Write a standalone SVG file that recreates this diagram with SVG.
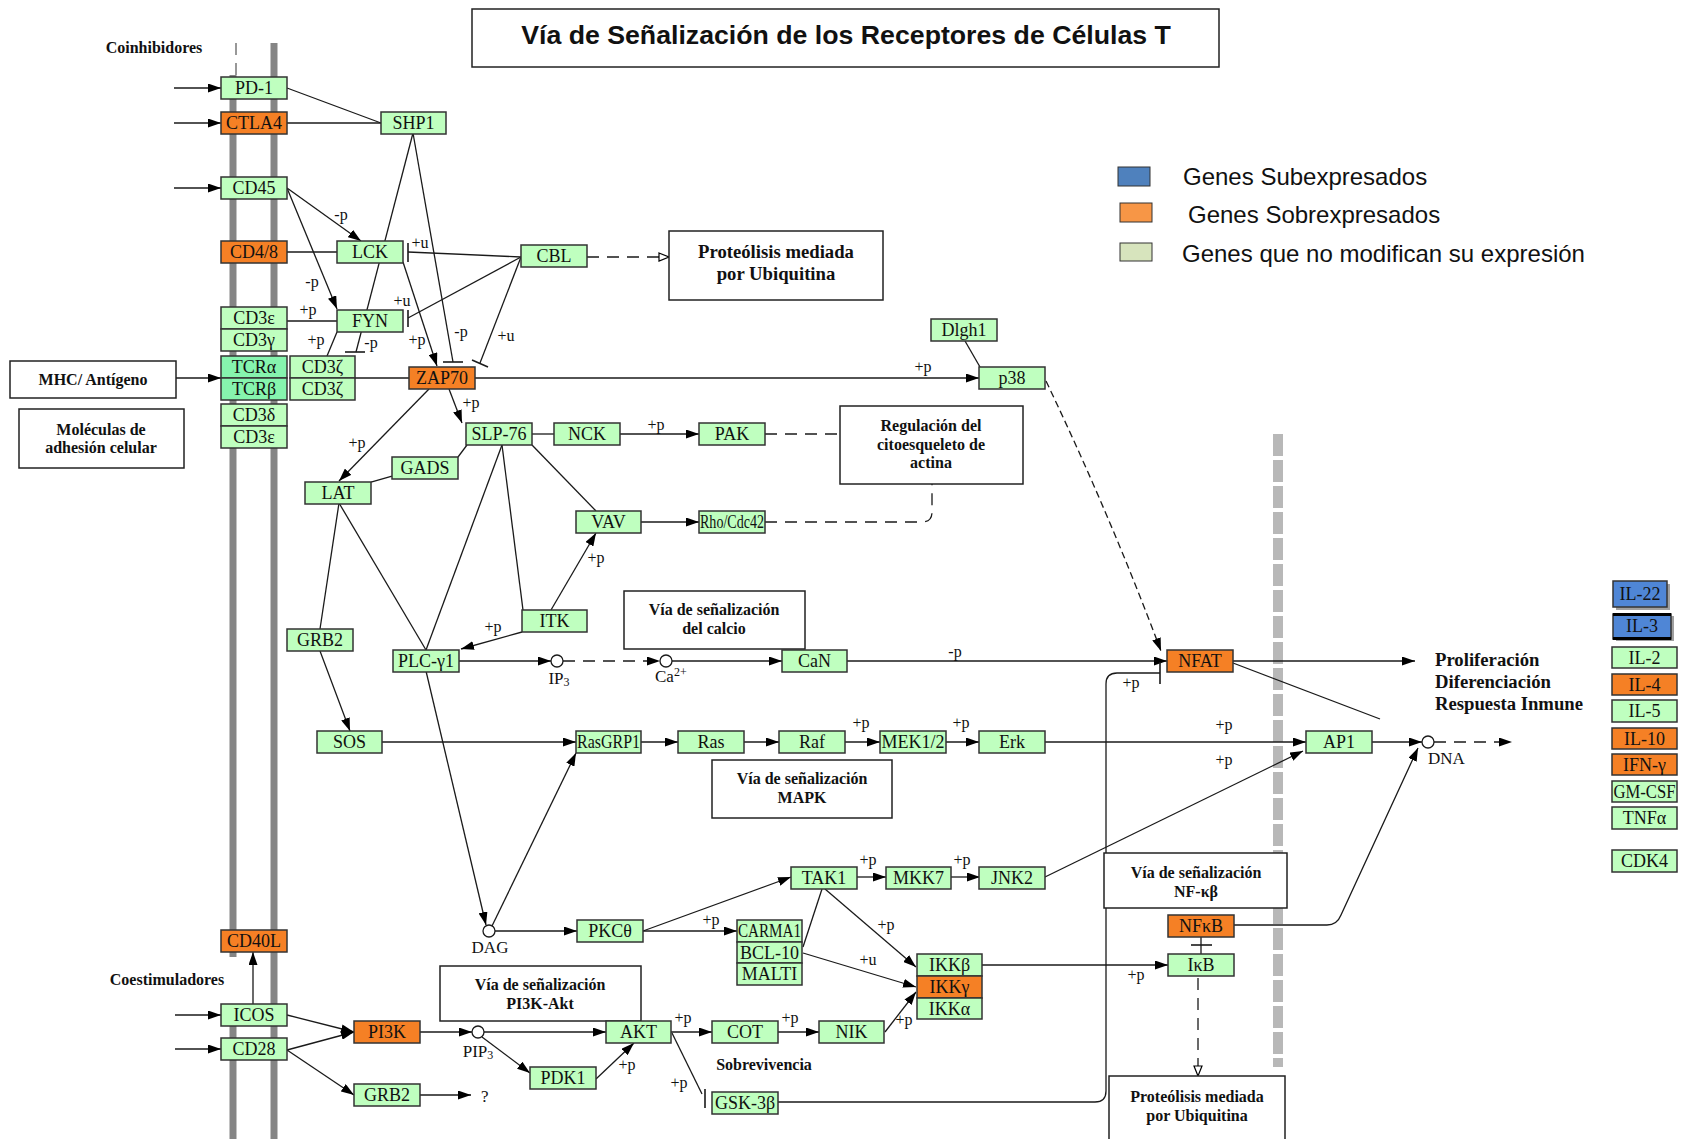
<svg xmlns="http://www.w3.org/2000/svg" width="1688" height="1139" viewBox="0 0 1688 1139">
<style>
.n rect{fill:#bfffbf;stroke:#333;stroke-width:1.5}
.n.o rect{fill:#f58025}
.n.t rect{fill:#86f4ae}
.n.b rect{fill:#4f86d6}
.n text{font-family:"Liberation Serif",serif;font-size:18px;text-anchor:middle;fill:#111}
.bx rect{fill:#fff;stroke:#222;stroke-width:1.5}
.bx text{font-family:"Liberation Serif",serif;font-weight:bold;font-size:16px;text-anchor:middle;fill:#111}
.bx text.big{font-size:18.7px}
.c path{fill:none;stroke:#1a1a1a;stroke-width:1.3}
.c .d{stroke-dasharray:12 8}
.c .f{stroke-dasharray:7 4}
.c .bar{stroke-width:1.6}
.lb{font-family:"Liberation Serif",serif;font-size:16px;text-anchor:middle;fill:#111}
.mt{font-family:"Liberation Serif",serif;font-size:17px;fill:#111}
.hd{font-family:"Liberation Serif",serif;font-weight:bold;font-size:16px;fill:#111}
.hd.big{font-size:18.7px}
.lg{font-family:"Liberation Sans",Arial,sans-serif;font-size:24px;fill:#111}
</style>
<defs>
<marker id="ah" viewBox="0 0 13 9" refX="13" refY="4.5" markerWidth="13" markerHeight="9" markerUnits="userSpaceOnUse" orient="auto"><path d="M0,0 L13,4.5 L0,9 z" fill="#000"/></marker>
<marker id="oh" viewBox="0 0 12 10" refX="11" refY="5" markerWidth="12" markerHeight="10" markerUnits="userSpaceOnUse" orient="auto"><path d="M1,1 L11,5 L1,9 z" fill="#fff" stroke="#000" stroke-width="1.2"/></marker>
</defs>
<rect width="1688" height="1139" fill="#fff"/>

<!-- membranes -->
<g id="membranes">
<line x1="236" y1="43" x2="236" y2="75" stroke="#777" stroke-width="1.5" stroke-dasharray="12 8"/>
<line x1="233" y1="75" x2="233" y2="957" stroke="#858585" stroke-width="7"/>
<line x1="233" y1="1004" x2="233" y2="1139" stroke="#858585" stroke-width="7"/>
<line x1="274" y1="43" x2="274" y2="1139" stroke="#858585" stroke-width="7"/>
<line x1="1278" y1="434" x2="1278" y2="1067" stroke="#b8b8b8" stroke-width="10" stroke-dasharray="22 4"/>
</g>

<!-- title and legend -->
<g id="title">
<rect x="472" y="9" width="747" height="58" fill="#fff" stroke="#222" stroke-width="1.5"/>
<text x="846" y="44" font-family="Liberation Sans, Arial, sans-serif" font-weight="bold" font-size="26.7" text-anchor="middle" fill="#111">Vía de Señalización de los Receptores de Células T</text>
</g>
<g id="legend">
<rect x="1118" y="167" width="32" height="19" fill="#4f81bd" stroke="#333" stroke-width="1"/>
<rect x="1120" y="203" width="32" height="19" fill="#f79646" stroke="#333" stroke-width="1"/>
<rect x="1120" y="243" width="32" height="18" fill="#d7e4bd" stroke="#333" stroke-width="1"/>
<text class="lg" x="1183" y="185">Genes Subexpresados</text>
<text class="lg" x="1188" y="223">Genes Sobrexpresados</text>
<text class="lg" x="1182" y="262">Genes que no modifican su expresión</text>
</g>

<!-- free labels -->
<g id="labels">
<text class="hd" x="154" y="53" text-anchor="middle">Coinhibidores</text>
<text class="hd" x="167" y="985" text-anchor="middle">Coestimuladores</text>
<text class="hd" x="764" y="1070" text-anchor="middle">Sobrevivencia</text>
<text class="hd big" x="1435" y="666">Proliferación</text>
<text class="hd big" x="1435" y="688">Diferenciación</text>
<text class="hd big" x="1435" y="710">Respuesta Inmune</text>
<text class="mt" x="559" y="684" text-anchor="middle">IP<tspan font-size="12" dy="2">3</tspan></text>
<text class="mt" x="655" y="682">Ca<tspan font-size="12" dy="-6">2+</tspan></text>
<text class="mt" x="490" y="953" text-anchor="middle">DAG</text>
<text class="mt" x="478" y="1057" text-anchor="middle">PIP<tspan font-size="12" dy="2">3</tspan></text>
<text class="mt" x="1428" y="764">DNA</text>
<text class="mt" x="481" y="1102">?</text>
</g>

<!-- connectors -->
<g id="connectors" class="c">
<path d="M174,88 L221,88" marker-end="url(#ah)"/>
<path d="M174,123 L221,123" marker-end="url(#ah)"/>
<path d="M174,188 L221,188" marker-end="url(#ah)"/>
<path d="M176,378 L221,378" marker-end="url(#ah)"/>
<path d="M175,1015 L221,1015" marker-end="url(#ah)"/>
<path d="M175,1049 L221,1049" marker-end="url(#ah)"/>
<path d="M253,1004 L253,952" marker-end="url(#ah)"/>
<path d="M287,88 L381,123"/>
<path d="M287,123 L381,123"/>
<path d="M287,188 L361,241" marker-end="url(#ah)"/>
<path d="M287,188 L337,309" marker-end="url(#ah)"/>
<path d="M287,252 L337,252"/>
<path d="M287,321 L337,321"/>
<path d="M413,133 L356,352"/>
<path class="bar" d="M345,352 L365,352"/>
<path d="M413,133 L453,362"/>
<path class="bar" d="M443,362 L463,362"/>
<path d="M403,262 L437,366" marker-end="url(#ah)"/>
<path d="M337,332 L327,356"/>
<path d="M521,257 L408,252"/>
<path class="bar" d="M408,243 L408,262"/>
<path d="M521,257 L408,318"/>
<path class="bar" d="M408,310 L408,327"/>
<path d="M521,257 L480,363"/>
<path class="bar" d="M472,360 L488,367"/>
<path class="d" d="M587,257 L669,257" marker-end="url(#oh)"/>
<path d="M355,378 L409,378"/>
<path d="M475,378 L979,378" marker-end="url(#ah)"/>
<path d="M965,341 L980,367"/>
<path class="f" d="M1046,381 Q1110,515 1161,651" marker-end="url(#ah)"/>
<path d="M449,389 L462,423" marker-end="url(#ah)"/>
<path d="M429,389 L339,481" marker-end="url(#ah)"/>
<path d="M532,434 L554,434"/>
<path d="M620,434 L699,434" marker-end="url(#ah)"/>
<path class="d" d="M765,434 L840,434"/>
<path d="M467,445 L458,457"/>
<path d="M392,476 L371,482"/>
<path d="M532,445 L596,511"/>
<path d="M502,445 L426,650"/>
<path d="M502,445 L523,610"/>
<path d="M339,503 L426,650"/>
<path d="M339,503 L320,629"/>
<path d="M320,651 L350,731" marker-end="url(#ah)"/>
<path d="M641,522 L699,522" marker-end="url(#ah)"/>
<path class="d" d="M765,522 L922,522 Q932,522 932,512 L932,484"/>
<path d="M551,610 L596,533" marker-end="url(#ah)"/>
<path d="M522,632 L461,649" marker-end="url(#ah)"/>
<path d="M459,661 L551,661" marker-end="url(#ah)"/>
<path class="d" d="M563,661 L660,661" marker-end="url(#ah)"/>
<path d="M672,661 L782,661" marker-end="url(#ah)"/>
<path d="M847,661 L1167,661" marker-end="url(#ah)"/>
<path d="M1233,661 L1415,661" marker-end="url(#ah)"/>
<path d="M1233,663 L1380,719"/>
<path d="M778,1102 L1095,1102 Q1106,1102 1106,1091 L1106,684 Q1106,673 1117,673 L1160,673"/>
<path class="bar" d="M1160,662 L1160,684"/>
<path d="M382,742 L576,742" marker-end="url(#ah)"/>
<path d="M641,742 L678,742" marker-end="url(#ah)"/>
<path d="M744,742 L779,742" marker-end="url(#ah)"/>
<path d="M845,742 L880,742" marker-end="url(#ah)"/>
<path d="M946,742 L979,742" marker-end="url(#ah)"/>
<path d="M1045,742 L1306,742" marker-end="url(#ah)"/>
<path d="M1045,877 L1303,751" marker-end="url(#ah)"/>
<path d="M1372,742 L1422,742" marker-end="url(#ah)"/>
<path class="d" d="M1434,742 L1512,742" marker-end="url(#ah)"/>
<path d="M1234,925 L1327,925 Q1337,925 1341,915 L1418,748" marker-end="url(#ah)"/>
<path d="M426,671 L486,925" marker-end="url(#ah)"/>
<path d="M492,926 L576,753" marker-end="url(#ah)"/>
<path d="M495,931 L577,931" marker-end="url(#ah)"/>
<path d="M643,931 L791,877" marker-end="url(#ah)"/>
<path d="M643,931 L737,931" marker-end="url(#ah)"/>
<path d="M857,877 L886,877" marker-end="url(#ah)"/>
<path d="M951,877 L980,877" marker-end="url(#ah)"/>
<path d="M822,889 L803,947"/>
<path d="M825,889 L916,967" marker-end="url(#ah)"/>
<path d="M803,953 L916,987" marker-end="url(#ah)"/>
<path d="M885,1032 L916,992" marker-end="url(#ah)"/>
<path d="M982,965 L1168,965" marker-end="url(#ah)"/>
<path d="M1201,937 L1201,954"/>
<path class="bar" d="M1191,945 L1212,945"/>
<path class="d" d="M1198,978 L1198,1076" marker-end="url(#oh)"/>
<path d="M287,1015 L354,1032" marker-end="url(#ah)"/>
<path d="M287,1050 L354,1032" marker-end="url(#ah)"/>
<path d="M287,1050 L354,1095" marker-end="url(#ah)"/>
<path d="M420,1095 L471,1095" marker-end="url(#ah)"/>
<path d="M420,1032 L472,1032" marker-end="url(#ah)"/>
<path d="M484,1032 L606,1032" marker-end="url(#ah)"/>
<path d="M482,1037 L530,1073" marker-end="url(#ah)"/>
<path d="M596,1079 L634,1043" marker-end="url(#ah)"/>
<path d="M671,1032 L712,1032" marker-end="url(#ah)"/>
<path d="M778,1032 L819,1032" marker-end="url(#ah)"/>
<path d="M672,1033 L702,1094"/>
<path class="bar" d="M705,1089 L705,1108"/>
<circle cx="557" cy="661" r="6" fill="#fff" stroke="#1a1a1a" stroke-width="1.3"/>
<circle cx="666" cy="661" r="6" fill="#fff" stroke="#1a1a1a" stroke-width="1.3"/>
<circle cx="489" cy="931" r="6" fill="#fff" stroke="#1a1a1a" stroke-width="1.3"/>
<circle cx="478" cy="1032" r="6" fill="#fff" stroke="#1a1a1a" stroke-width="1.3"/>
<circle cx="1428" cy="742" r="6" fill="#fff" stroke="#1a1a1a" stroke-width="1.3"/>
</g>

<!-- edge labels -->
<g id="edge-labels" class="lb">
<text class="lb" x="341" y="220">-p</text>
<text class="lb" x="312" y="287">-p</text>
<text class="lb" x="308" y="315">+p</text>
<text class="lb" x="316" y="345">+p</text>
<text class="lb" x="371" y="348">-p</text>
<text class="lb" x="420" y="248">+u</text>
<text class="lb" x="402" y="306">+u</text>
<text class="lb" x="417" y="345">+p</text>
<text class="lb" x="461" y="337">-p</text>
<text class="lb" x="506" y="341">+u</text>
<text class="lb" x="923" y="372">+p</text>
<text class="lb" x="471" y="408">+p</text>
<text class="lb" x="357" y="448">+p</text>
<text class="lb" x="656" y="430">+p</text>
<text class="lb" x="596" y="563">+p</text>
<text class="lb" x="493" y="632">+p</text>
<text class="lb" x="955" y="657">-p</text>
<text class="lb" x="1131" y="688">+p</text>
<text class="lb" x="861" y="728">+p</text>
<text class="lb" x="961" y="728">+p</text>
<text class="lb" x="1224" y="730">+p</text>
<text class="lb" x="1224" y="765">+p</text>
<text class="lb" x="868" y="865">+p</text>
<text class="lb" x="962" y="865">+p</text>
<text class="lb" x="711" y="925">+p</text>
<text class="lb" x="886" y="930">+p</text>
<text class="lb" x="868" y="965">+u</text>
<text class="lb" x="904" y="1025">+p</text>
<text class="lb" x="1136" y="980">+p</text>
<text class="lb" x="683" y="1023">+p</text>
<text class="lb" x="790" y="1023">+p</text>
<text class="lb" x="627" y="1070">+p</text>
<text class="lb" x="679" y="1088">+p</text>
</g>

<!-- pathway boxes -->
<g id="box-mhc" class="bx"><rect x="10" y="361" width="166" height="37"/><text x="93" y="385">MHC/ Antígeno</text></g>
<g id="box-adhesion" class="bx"><rect x="19" y="409" width="165" height="59"/><text x="101" y="435">Moléculas de</text><text x="101" y="453">adhesión celular</text></g>
<g id="box-proteolysis1" class="bx"><rect x="669" y="231" width="214" height="69"/><text class="big" x="776" y="258">Proteólisis mediada</text><text class="big" x="776" y="280">por Ubiquitina</text></g>
<g id="box-actin" class="bx"><rect x="840" y="406" width="183" height="78"/><text x="931" y="431">Regulación del</text><text x="931" y="450">citoesqueleto de</text><text x="931" y="468">actina</text></g>
<g id="box-calcium" class="bx"><rect x="624" y="591" width="181" height="58"/><text x="714" y="615">Vía de señalización</text><text x="714" y="634">del calcio</text></g>
<g id="box-mapk" class="bx"><rect x="712" y="760" width="180" height="58"/><text x="802" y="784">Vía de señalización</text><text x="802" y="803">MAPK</text></g>
<g id="box-pi3k" class="bx"><rect x="440" y="966" width="201" height="55"/><text x="540" y="990">Vía de señalización</text><text x="540" y="1009">PI3K-Akt</text></g>
<g id="box-nfkb" class="bx"><rect x="1104" y="853" width="183" height="55"/><text x="1196" y="878">Vía de señalización</text><text x="1196" y="897">NF-κβ</text></g>
<g id="box-proteolysis2" class="bx"><rect x="1109" y="1076" width="176" height="80"/><text x="1197" y="1102">Proteólisis mediada</text><text x="1197" y="1121">por Ubiquitina</text></g>

<!-- nodes -->
<g id="PD-1" class="n"><rect x="221" y="77" width="66" height="22"/><text x="254" y="94">PD-1</text></g>
<g id="CTLA4" class="n o"><rect x="221" y="112" width="66" height="22"/><text x="254" y="129">CTLA4</text></g>
<g id="CD45" class="n"><rect x="221" y="177" width="66" height="22"/><text x="254" y="194">CD45</text></g>
<g id="CD4-8" class="n o"><rect x="221" y="241" width="66" height="22"/><text x="254" y="258">CD4/8</text></g>
<g id="CD3e-1" class="n"><rect x="221" y="307" width="66" height="22"/><text x="254" y="324">CD3ε</text></g>
<g id="CD3g" class="n"><rect x="221" y="329" width="66" height="22"/><text x="254" y="346">CD3γ</text></g>
<g id="TCRa" class="n t"><rect x="221" y="356" width="66" height="22"/><text x="254" y="373">TCRα</text></g>
<g id="TCRb" class="n t"><rect x="221" y="378" width="66" height="22"/><text x="254" y="395">TCRβ</text></g>
<g id="CD3d" class="n"><rect x="221" y="404" width="66" height="22"/><text x="254" y="421">CD3δ</text></g>
<g id="CD3e-2" class="n"><rect x="221" y="426" width="66" height="22"/><text x="254" y="443">CD3ε</text></g>
<g id="CD3z-1" class="n"><rect x="290" y="356" width="65" height="22"/><text x="322.5" y="373">CD3ζ</text></g>
<g id="CD3z-2" class="n"><rect x="290" y="378" width="65" height="22"/><text x="322.5" y="395">CD3ζ</text></g>
<g id="CD40L" class="n o"><rect x="221" y="930" width="66" height="22"/><text x="254" y="947">CD40L</text></g>
<g id="ICOS" class="n"><rect x="221" y="1004" width="66" height="22"/><text x="254" y="1021">ICOS</text></g>
<g id="CD28" class="n"><rect x="221" y="1038" width="66" height="22"/><text x="254" y="1055">CD28</text></g>
<g id="SHP1" class="n"><rect x="381" y="112" width="65" height="22"/><text x="413.5" y="129">SHP1</text></g>
<g id="LCK" class="n"><rect x="337" y="241" width="66" height="22"/><text x="370" y="258">LCK</text></g>
<g id="FYN" class="n"><rect x="337" y="310" width="66" height="22"/><text x="370" y="327">FYN</text></g>
<g id="ZAP70" class="n o"><rect x="409" y="367" width="66" height="22"/><text x="442" y="384">ZAP70</text></g>
<g id="CBL" class="n"><rect x="521" y="245" width="66" height="22"/><text x="554" y="262">CBL</text></g>
<g id="Dlgh1" class="n"><rect x="931" y="319" width="66" height="22"/><text x="964" y="336">Dlgh1</text></g>
<g id="p38" class="n"><rect x="979" y="367" width="66" height="22"/><text x="1012" y="384">p38</text></g>
<g id="SLP-76" class="n"><rect x="466" y="423" width="66" height="22"/><text x="499" y="440">SLP-76</text></g>
<g id="NCK" class="n"><rect x="554" y="423" width="66" height="22"/><text x="587" y="440">NCK</text></g>
<g id="PAK" class="n"><rect x="699" y="423" width="66" height="22"/><text x="732" y="440">PAK</text></g>
<g id="GADS" class="n"><rect x="392" y="457" width="66" height="22"/><text x="425" y="474">GADS</text></g>
<g id="LAT" class="n"><rect x="305" y="482" width="66" height="22"/><text x="338" y="499">LAT</text></g>
<g id="VAV" class="n"><rect x="576" y="511" width="65" height="22"/><text x="608.5" y="528">VAV</text></g>
<g id="Rho-Cdc42" class="n"><rect x="699" y="511" width="66" height="22"/><text x="732" y="528" textLength="64" lengthAdjust="spacingAndGlyphs">Rho/Cdc42</text></g>
<g id="ITK" class="n"><rect x="522" y="610" width="65" height="22"/><text x="554.5" y="627">ITK</text></g>
<g id="GRB2-1" class="n"><rect x="287" y="629" width="66" height="22"/><text x="320" y="646">GRB2</text></g>
<g id="PLCg1" class="n"><rect x="393" y="650" width="66" height="22"/><text x="426" y="667">PLC-γ1</text></g>
<g id="CaN" class="n"><rect x="782" y="650" width="65" height="22"/><text x="814.5" y="667">CaN</text></g>
<g id="NFAT" class="n o"><rect x="1167" y="650" width="66" height="22"/><text x="1200" y="667">NFAT</text></g>
<g id="SOS" class="n"><rect x="317" y="731" width="65" height="22"/><text x="349.5" y="748">SOS</text></g>
<g id="RasGRP1" class="n"><rect x="576" y="731" width="65" height="22"/><text x="608.5" y="748" textLength="63" lengthAdjust="spacingAndGlyphs">RasGRP1</text></g>
<g id="Ras" class="n"><rect x="678" y="731" width="66" height="22"/><text x="711" y="748">Ras</text></g>
<g id="Raf" class="n"><rect x="779" y="731" width="66" height="22"/><text x="812" y="748">Raf</text></g>
<g id="MEK1-2" class="n"><rect x="880" y="731" width="66" height="22"/><text x="913" y="748">MEK1/2</text></g>
<g id="Erk" class="n"><rect x="979" y="731" width="66" height="22"/><text x="1012" y="748">Erk</text></g>
<g id="AP1" class="n"><rect x="1306" y="731" width="66" height="22"/><text x="1339" y="748">AP1</text></g>
<g id="TAK1" class="n"><rect x="791" y="867" width="66" height="22"/><text x="824" y="884">TAK1</text></g>
<g id="MKK7" class="n"><rect x="886" y="867" width="65" height="22"/><text x="918.5" y="884">MKK7</text></g>
<g id="JNK2" class="n"><rect x="979" y="867" width="66" height="22"/><text x="1012" y="884">JNK2</text></g>
<g id="PKCtheta" class="n"><rect x="577" y="920" width="66" height="22"/><text x="610" y="937">PKCθ</text></g>
<g id="CARMA1" class="n"><rect x="737" y="920" width="65" height="22"/><text x="769.5" y="937" textLength="63" lengthAdjust="spacingAndGlyphs">CARMA1</text></g>
<g id="BCL-10" class="n"><rect x="737" y="942" width="65" height="21"/><text x="769.5" y="958.5">BCL-10</text></g>
<g id="MALT1" class="n"><rect x="737" y="963" width="65" height="22"/><text x="769.5" y="980">MALTI</text></g>
<g id="IKKb" class="n"><rect x="917" y="954" width="65" height="22"/><text x="949.5" y="971">IKKβ</text></g>
<g id="IKKg" class="n o"><rect x="917" y="976" width="65" height="22"/><text x="949.5" y="993">IKKγ</text></g>
<g id="IKKa" class="n"><rect x="917" y="998" width="65" height="21"/><text x="949.5" y="1014.5">IKKα</text></g>
<g id="NFkB" class="n o"><rect x="1168" y="915" width="66" height="22"/><text x="1201" y="932">NFκB</text></g>
<g id="IkB" class="n"><rect x="1168" y="954" width="66" height="22"/><text x="1201" y="971">IκB</text></g>
<g id="PI3K" class="n o"><rect x="354" y="1021" width="66" height="22"/><text x="387" y="1038">PI3K</text></g>
<g id="AKT" class="n"><rect x="606" y="1021" width="65" height="22"/><text x="638.5" y="1038">AKT</text></g>
<g id="COT" class="n"><rect x="712" y="1021" width="66" height="22"/><text x="745" y="1038">COT</text></g>
<g id="NIK" class="n"><rect x="819" y="1021" width="65" height="22"/><text x="851.5" y="1038">NIK</text></g>
<g id="PDK1" class="n"><rect x="530" y="1067" width="66" height="22"/><text x="563" y="1084">PDK1</text></g>
<g id="GRB2-2" class="n"><rect x="354" y="1084" width="66" height="22"/><text x="387" y="1101">GRB2</text></g>
<g id="GSK-3b" class="n"><rect x="712" y="1092" width="66" height="22"/><text x="745" y="1109">GSK-3β</text></g>

<!-- cytokine column -->
<g id="IL-22" class="n b"><rect x="1616" y="584" width="54" height="26" style="fill:#a0a0a0;stroke:none"/><rect x="1613" y="581" width="54" height="26"/><text x="1640" y="600">IL-22</text></g>
<g id="IL-3" class="n b"><rect x="1616" y="616" width="58" height="25" style="fill:#a0a0a0;stroke:none"/><rect x="1613" y="614" width="58" height="25"/><rect x="1613" y="613" width="58" height="3" style="fill:#000;stroke:none"/><rect x="1613" y="637" width="58" height="3" style="fill:#000;stroke:none"/><text x="1642" y="632">IL-3</text></g>
<g id="IL-2" class="n"><rect x="1612" y="647" width="65" height="21"/><text x="1644.5" y="663.5">IL-2</text></g>
<g id="IL-4" class="n o"><rect x="1612" y="674" width="65" height="21"/><text x="1644.5" y="690.5">IL-4</text></g>
<g id="IL-5" class="n"><rect x="1612" y="700" width="65" height="22"/><text x="1644.5" y="717">IL-5</text></g>
<g id="IL-10" class="n o"><rect x="1612" y="728" width="65" height="21"/><text x="1644.5" y="744.5">IL-10</text></g>
<g id="IFN-g" class="n o"><rect x="1612" y="754" width="65" height="21"/><text x="1644.5" y="770.5">IFN-γ</text></g>
<g id="GM-CSF" class="n"><rect x="1612" y="781" width="65" height="21"/><text x="1644.5" y="797.5" textLength="62" lengthAdjust="spacingAndGlyphs">GM-CSF</text></g>
<g id="TNFa" class="n"><rect x="1612" y="807" width="65" height="22"/><text x="1644.5" y="824">TNFα</text></g>
<g id="CDK4" class="n"><rect x="1612" y="850" width="65" height="22"/><text x="1644.5" y="867">CDK4</text></g>
</svg>
